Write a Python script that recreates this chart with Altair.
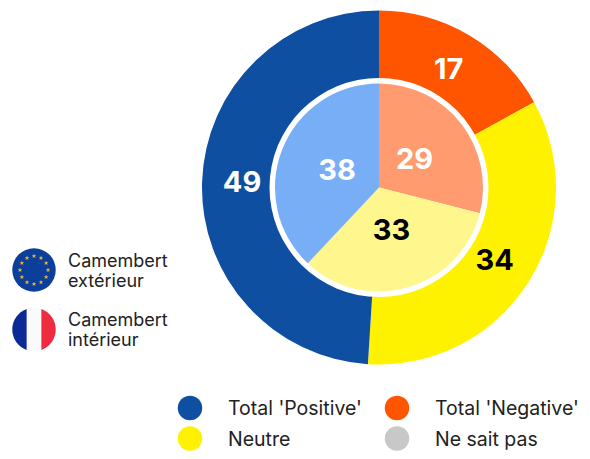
import altair as alt
import pandas as pd

OUTER_VALUES = [17, 34, 49]
INNER_VALUES = [29, 33, 38]
OUTER_COLORS = ["#FF5500", "#FFF200", "#0E4FA1"]
INNER_COLORS = ["#FF9B6F", "#FFF78E", "#78AEF5"]
LABEL_COLORS = ["white", "black", "white"]
INNER_LABEL_COLORS = ["white", "black", "white"]
LEGEND_LABELS = ["Total 'Positive'", "Total 'Negative'", "Neutre", "Ne sait pas"]
LEGEND_COLORS = ["#0E4FA1", "#FF5500", "#FFF200", "#C8C8C8"]
FLAG_LABELS = [["Camembert", "extérieur"], ["Camembert", "intérieur"]]

M = 8
CX, CY = 379 - M, 187.5 - M
TXT = "#222222"
FONT = "Inter"
NUMFONT = "Inter"


def row(i, vals, cols, labs):
    return [{"o": k, "v": vals[k], "c": cols[k], "t": labs[k]} for k in range(3)]


outer_df = pd.DataFrame(row(0, OUTER_VALUES, OUTER_COLORS, LABEL_COLORS))
inner_df = pd.DataFrame(row(0, INNER_VALUES, INNER_COLORS, INNER_LABEL_COLORS))
theta = alt.Theta("v:Q", stack=True, scale=alt.Scale(domain=[0, 100], range=[0, 6.28318530718]))
order = alt.Order("o:O")
cx = alt.value(CX)
cy = alt.value(CY)
one = alt.Data(values=[{"a": 1}])


def pie(df, r, rl, fs):
    base = alt.Chart(df)
    arc = base.mark_arc(radius=r, radius2=0).encode(
        theta=theta, order=order, x=cx, y=cy, color=alt.Color("c:N", scale=None)
    )
    txt = base.mark_text(radius=rl, font=NUMFONT, fontWeight=700, fontSize=fs).encode(
        theta=theta, order=order, x=cx, y=cy, text="v:Q", color=alt.Color("t:N", scale=None)
    )
    return arc, txt


oa, ot = pie(outer_df, 177, 137, 29)
ia, it = pie(inner_df, 104, 45, 29)
ring = alt.Chart(one).mark_point(filled=True, opacity=1, color="white", size=219 ** 2).encode(x=cx, y=cy)

# legend
lx = [190 - M, 397 - M]
ly = [408 - M, 438.5 - M]
legend_layers = []
for i, (lab, col) in enumerate(zip(LEGEND_LABELS, LEGEND_COLORS)):
    xi, yi = lx[i % 2], ly[i // 2]
    legend_layers.append(
        alt.Chart(one).mark_point(filled=True, opacity=1, color=col, size=24.5 ** 2).encode(
            x=alt.value(xi), y=alt.value(yi))
    )
    legend_layers.append(
        alt.Chart(one).mark_text(text=lab, align="left", baseline="middle", font=FONT, fontSize=19.5, color=TXT).encode(
            x=alt.value(xi + 38), y=alt.value(yi + 1))
    )

# flags
FX = 34 - M
EU_Y = 270 - M
FR_Y = 329.5 - M
FSIZE = 43.5 ** 2
eu = alt.Chart(one).mark_point(filled=True, opacity=1, color="#0B3F9B", size=FSIZE).encode(
    x=alt.value(FX), y=alt.value(EU_Y))
STAR_COUNT = 12
stars = alt.Chart(pd.DataFrame({"i": list(range(STAR_COUNT))})).transform_calculate(
    px=f"{FX}+14*sin(datum.i*PI/6)", py=f"{EU_Y}-14*cos(datum.i*PI/6)"
).mark_point(filled=True, opacity=1, color="#E3B92B", size=20, shape="M0 -1 L0.3 -0.3 L1 -0.3 L0.45 0.15 L0.65 0.9 L0 0.45 L-0.65 0.9 L-0.45 0.15 L-1 -0.3 L-0.3 -0.3 Z").encode(
    x=alt.X("px:Q", scale=None), y=alt.Y("py:Q", scale=None))

fr_white = alt.Chart(one).mark_point(filled=True, opacity=1, color="#FAFAFA", size=FSIZE).encode(x=alt.value(FX), y=alt.value(FR_Y))
fr_blue = alt.Chart(one).mark_point(filled=True, opacity=1, color="#0B2A95", size=FSIZE,
    shape="M-0.34 -0.94 A1 1 0 0 0 -0.34 0.94 Z").encode(x=alt.value(FX), y=alt.value(FR_Y))
fr_red = alt.Chart(one).mark_point(filled=True, opacity=1, color="#EF2B40", size=FSIZE,
    shape="M0.34 -0.94 A1 1 0 0 1 0.34 0.94 Z").encode(x=alt.value(FX), y=alt.value(FR_Y))

flag_text = []
for lines, y0 in zip(FLAG_LABELS, [261.5 - M, 321 - M]):
    for j, s in enumerate(lines):
        flag_text.append(
            alt.Chart(one).mark_text(text=s, align="left", baseline="middle", font=FONT, fontSize=18, color=TXT).encode(
                x=alt.value(68 - M), y=alt.value(y0 + 20 * j))
        )

chart = alt.layer(
    oa, ring, ia, ot, it, *legend_layers, eu, stars, fr_white, fr_blue, fr_red, *flag_text
).resolve_scale(theta="shared").properties(
    width=574, height=443, padding=0, autosize=alt.AutoSizeParams(type="none"), background="white"
).configure_view(stroke=None)

chart.save("out.html", embed_options={"renderer": "svg", "actions": False})
